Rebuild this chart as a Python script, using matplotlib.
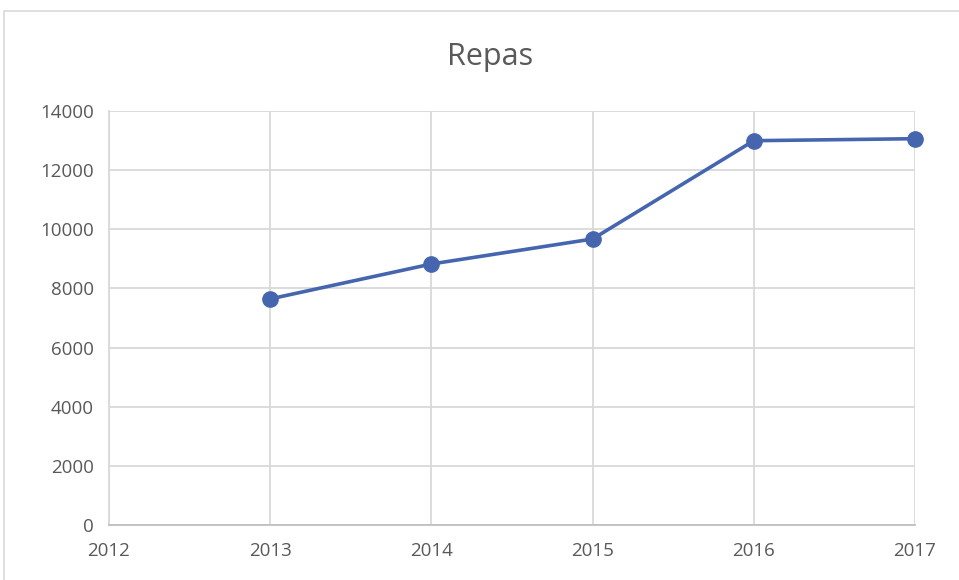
import matplotlib.pyplot as plt
from matplotlib.patches import Rectangle

# --- Data ---
years = [2013, 2014, 2015, 2016, 2017]
repas = [7645, 8826, 9672, 12996, 13063]
x_ticks = [2012, 2013, 2014, 2015, 2016, 2017]
y_ticks = [0, 2000, 4000, 6000, 8000, 10000, 12000, 14000]

text_color = "#595959"
line_color = "#4566AF"
grid_color = "#D9D9D9"

plt.rcParams["font.family"] = ["Open Sans", "DejaVu Sans"]

fig = plt.figure(figsize=(9.59, 5.8), dpi=100, facecolor="white")
ax = fig.add_axes([109 / 959, 55 / 580, 806 / 959, 414 / 580])

# chart border (cropped at right and bottom)
fig.patches.append(Rectangle((4 / 959, -0.1), 1.2, (569 / 580) + 0.1,
                             transform=fig.transFigure, fill=False,
                             edgecolor=grid_color, linewidth=1.2, clip_on=False))

ax.plot(years, repas, color=line_color, linewidth=2.6, marker="o",
        markersize=11, zorder=3, clip_on=False)

ax.set_xlim(2012, 2017)
ax.set_ylim(0, 14000)
ax.set_xticks(x_ticks)
ax.set_yticks(y_ticks)
ax.grid(True, color=grid_color, linewidth=1.3)
ax.set_axisbelow(True)

for side in ["top", "right"]:
    ax.spines[side].set_visible(False)
ax.spines["left"].set_color(grid_color)
ax.spines["left"].set_linewidth(1.3)
ax.spines["bottom"].set_color("#BFBFBF")
ax.spines["bottom"].set_linewidth(1.3)

ax.tick_params(axis="both", length=0, labelsize=13.5, labelcolor=text_color)
ax.tick_params(axis="y", pad=11)
ax.tick_params(axis="x", pad=12)

fig.text(490 / 959, 1 - 57 / 580, "Repas", ha="center", va="center",
         fontsize=22, color=text_color)

plt.savefig("out.png", dpi=100, facecolor="white")
plt.close()
